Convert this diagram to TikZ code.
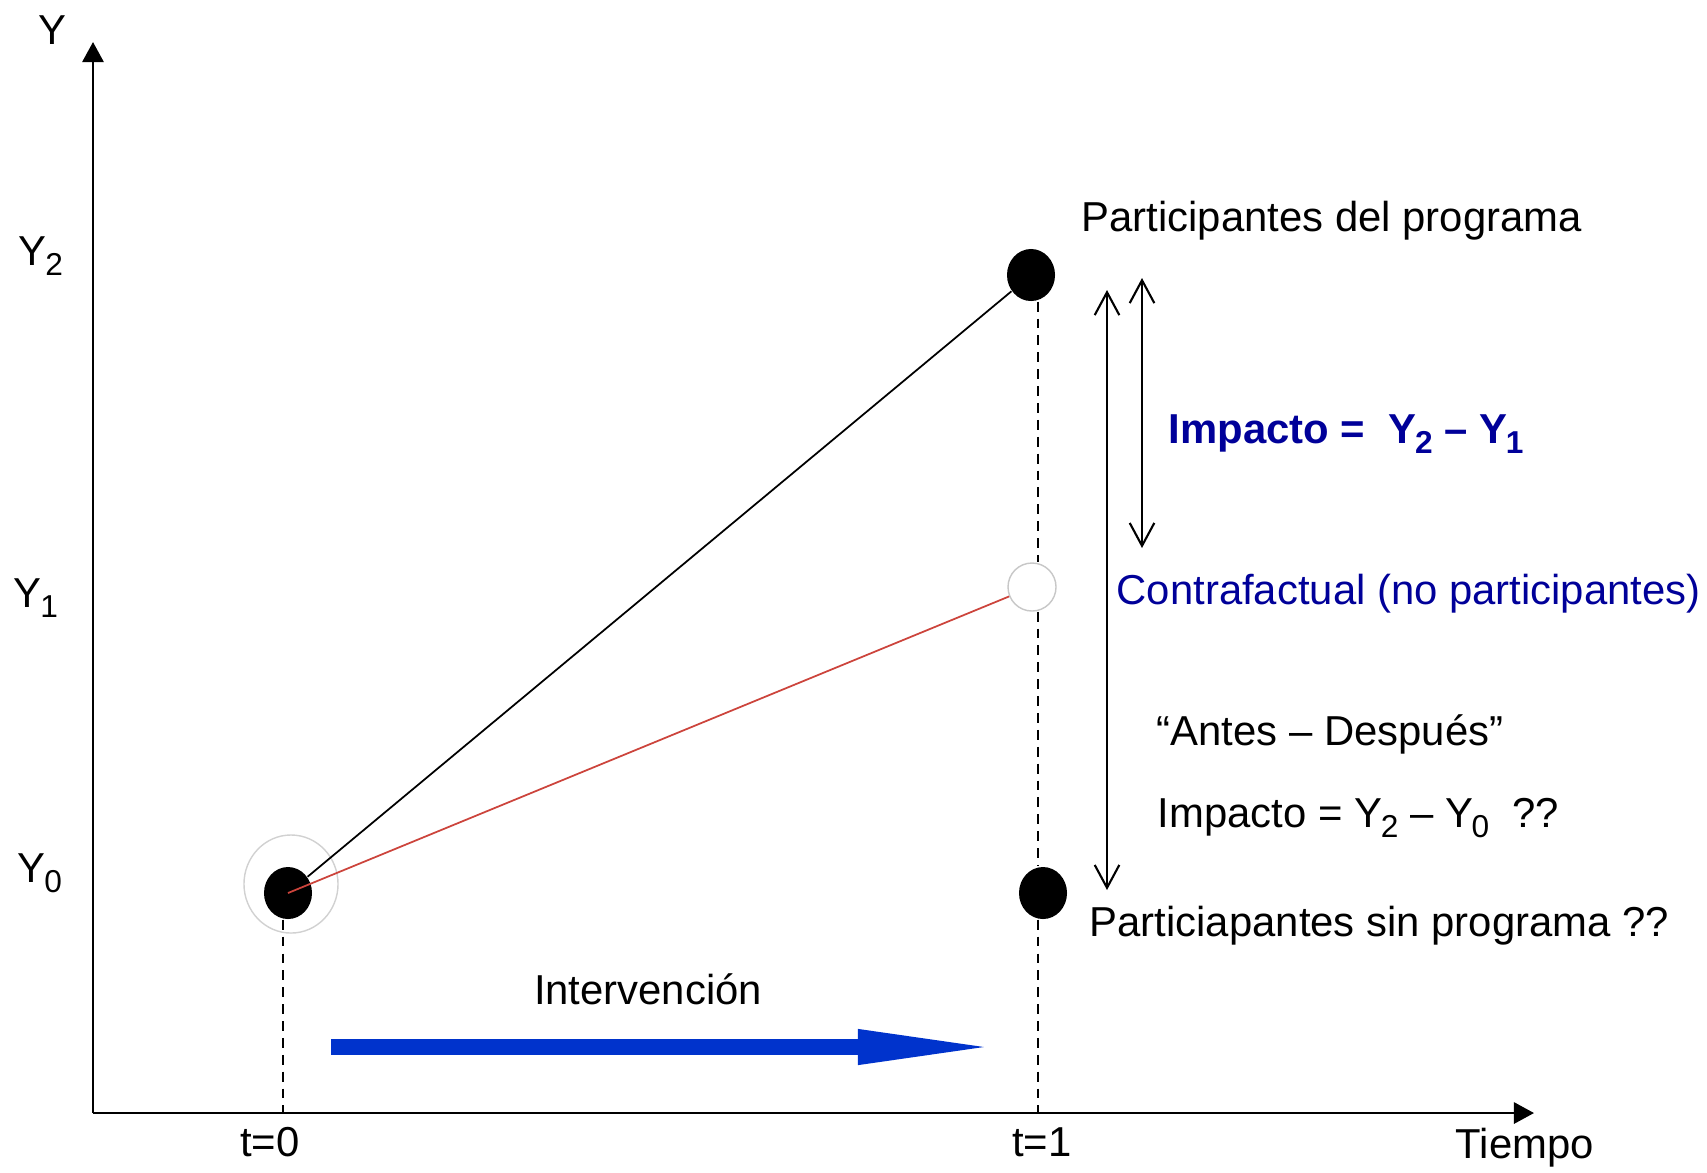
\documentclass[tikz,border=0pt]{standalone}
\usepackage{fontspec}
\setmainfont{Liberation Sans}
\usetikzlibrary{arrows.meta,shapes.geometric}
\definecolor{navy}{RGB}{0,0,153}
\definecolor{arrowblue}{RGB}{0,51,204}
\definecolor{slopered}{RGB}{204,68,60}
\newcommand{\idx}[1]{\kern-0.03em\raisebox{-0.24em}{\fontsize{9}{10}\selectfont #1}}

\begin{document}
\begin{tikzpicture}[x=0.01cm,y=-0.01cm,
    txt/.style={inner sep=0pt,font=\fontsize{11.9}{14}\selectfont},
    dot/.style={ellipse,fill=black,minimum width=0.48cm,minimum height=0.52cm,inner sep=0pt},
    hollow/.style={ellipse,draw=black!22,fill=white,line width=0.4pt,minimum width=0.48cm,minimum height=0.48cm,inner sep=0pt},
    axis/.style={line width=0.75pt,-{Triangle[length=5.7pt,width=6pt]}},
    guide/.style={line width=0.75pt,dash pattern=on 2.8pt off 2pt},
    span/.style={line width=0.6pt,{Straight Barb[length=6.5pt,width=7pt]}-{Straight Barb[length=6.5pt,width=7pt]}}]
    \useasboundingbox (0,0) rectangle (1707,1172);
    \coordinate (O) at (93,1113);
    \coordinate (ytop) at (93,42);
    \coordinate (xend) at (1534,1113);
    \coordinate (t0) at (283,1113);
    \coordinate (t1) at (1038,1113);
    \node (halo) [ellipse,draw=black!18,line width=0.4pt,minimum width=0.94cm,minimum height=0.98cm,inner sep=0pt] at (291,884) {};
    \node (p0) [dot] at (288,893) {};
    \node (p2) [dot] at (1031,275) {};
    \node (p1) [hollow] at (1032,587) {};
    \node (p3) [dot] at (1043,893) {};
    \coordinate (longtop) at (1107,290);
    \coordinate (longbot) at (1107,890);
    \coordinate (shorttop) at (1142,278);
    \coordinate (shortbot) at (1142,548);
    \coordinate (ivstart) at (331,1047);
    \coordinate (ivend) at (1003,1047);
    \node (ylab) [txt,anchor=base] at (52,44) {Y};
    \node (y2lab) [txt,anchor=base west] at (18,265) {Y\idx{2}};
    \node (y1lab) [txt,anchor=base west] at (13,607) {Y\idx{1}};
    \node (y0lab) [txt,anchor=base west] at (17,882) {Y\idx{0}};
    \node (t0lab) [txt,anchor=base] at (270,1156) {t=0};
    \node (t1lab) [txt,anchor=base] at (1042,1156) {t=1};
    \node (tiempo) [txt,anchor=base west] at (1455,1158) {Tiempo};
    \node (interv) [txt,anchor=base] at (648,1004) {Intervención};
    \node (partic) [txt,anchor=base west] at (1081,231) {Participantes del programa};
    \node (impacto) [txt,anchor=base west,text=navy,font=\fontsize{11.9}{14}\selectfont\bfseries] at (1168,443) {Impacto =\ \ Y\idx{2} – Y\idx{1}};
    \node (contraf) [txt,anchor=base west,text=navy] at (1116,604) {Contrafactual (no participantes)};
    \node (antes) [txt,anchor=base west] at (1156,745) {“Antes – Después”};
    \node (impacto2) [txt,anchor=base west] at (1157,827) {Impacto = Y\idx{2} – Y\idx{0}\ \ ??};
    \node (partsin) [txt,anchor=base west] at (1089,936) {Particiapantes sin programa ??};
    \draw[axis] (O) -- (ytop);
    \draw[axis] (O) -- (xend);
    \draw[guide] (p0.south -| t0) -- (t0);
    \draw[guide] (p2.south -| t1) -- (p1.north -| t1);
    \draw[guide] (p1.south -| t1) -- (p3.north -| t1);
    \draw[guide] (p3.south -| t1) -- (t1);
    \draw[line width=0.5pt] (p0) -- (p2);
    \draw[slopered,line width=0.5pt] (p0.center) -- (p1);
    \draw[span] (longtop) -- (longbot);
    \draw[span] (shorttop) -- (shortbot);
    \draw[arrowblue,line width=0.16cm,-{Triangle[length=1.45cm,width=0.31cm]}] (ivstart) -- (ivend);
\end{tikzpicture}
\end{document}
